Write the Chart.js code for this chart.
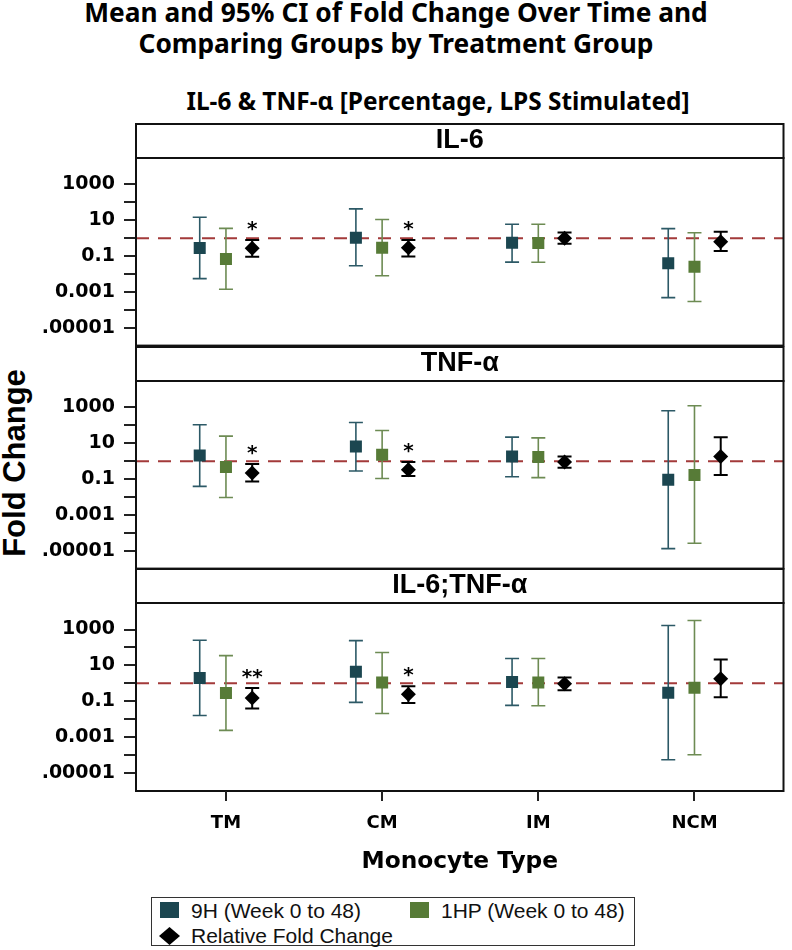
<!DOCTYPE html>
<html><head><meta charset="utf-8">
<script src="https://cdn.jsdelivr.net/npm/chart.js@4/dist/chart.umd.min.js"></script>
<style>
html,body{margin:0;padding:0;background:#fff;}
#root{position:relative;width:792px;height:950px;overflow:hidden;background:#fff;}
.t{position:absolute;white-space:nowrap;color:#000;}
.title{font-family:"Noto Sans","Open Sans",sans-serif;font-weight:700;font-size:26.3px;line-height:30px;width:792px;text-align:center;}
.sub{font-size:24.4px;}
.ytitle{font-family:"Liberation Sans",Arial,sans-serif;font-weight:700;font-size:31px;line-height:31px;left:14px;top:463px;transform:translate(-50%,-50%) rotate(-90deg);}
canvas{position:absolute;left:0;}
#legend{position:absolute;left:151px;top:897px;width:482px;height:47px;border:1.5px solid #333;}
.lt{position:absolute;font-family:"Liberation Sans",Arial,sans-serif;font-size:21px;line-height:21px;color:#111;white-space:nowrap;}
.lm{position:absolute;}
</style></head><body><div id="root">
<div class="t title" style="left:0;top:-3.5px">Mean and 95% CI of Fold Change Over Time and</div>
<div class="t title" style="left:0;top:28.1px">Comparing Groups by Treatment Group</div>
<div class="t title sub" style="left:42px;top:85.5px">IL-6 &amp; TNF-α [Percentage, LPS Stimulated]</div>
<div class="t ytitle">Fold Change</div>
<canvas id="c1" width="792" height="266" style="top:100px"></canvas>
<canvas id="c2" width="792" height="259" style="top:330px"></canvas>
<canvas id="c3" width="792" height="331" style="top:550px"></canvas>
<div id="legend"></div>
</div>
<script>
// ---- data ----
const categories = ['TM', 'CM', 'IM', 'NCM'];
const panelTitles = ['IL-6', 'TNF-α', 'IL-6;TNF-α'];
const seriesNames = ['9H (Week 0 to 48)', '1HP (Week 0 to 48)', 'Relative Fold Change'];
const xTitle = 'Monocyte Type';
const refValue = 1;
const yTickValues = [1000, 100, 10, 1, 0.1, 0.01, 0.001, 0.0001, 0.00001];
const yTickLabels = ['1000', '', '10', '', '0.1', '', '0.001', '', '.00001'];

// IL-6
const il6_9h_mean = [0.28, 1.07, 0.55, 0.04];
const il6_9h_lo = [0.0055, 0.029, 0.046, 0.00048];
const il6_9h_hi = [14.6, 43, 6, 3.4];
const il6_1hp_mean = [0.069, 0.29, 0.53, 0.025];
const il6_1hp_lo = [0.0014, 0.008, 0.045, 0.00029];
const il6_1hp_hi = [3.5, 11, 6, 2.0];
const il6_rfc_mean = [0.27, 0.29, 1.0, 0.64];
const il6_rfc_lo = [0.093, 0.095, 0.48, 0.19];
const il6_rfc_hi = [0.79, 0.79, 2.1, 2.3];
const il6_sig = ['*', '*', '', ''];

// TNF-α
const tnf_9h_mean = [2.1, 6.6, 1.8, 0.091];
const tnf_9h_lo = [0.039, 0.28, 0.135, 0.000013];
const tnf_9h_hi = [108, 145, 22, 660];
const tnf_1hp_mean = [0.47, 2.3, 1.7, 0.17];
const tnf_1hp_lo = [0.0093, 0.107, 0.12, 0.000026];
const tnf_1hp_hi = [25, 52, 20, 1240];
const tnf_rfc_mean = [0.22, 0.33, 0.89, 1.8];
const tnf_rfc_lo = [0.074, 0.15, 0.43, 0.17];
const tnf_rfc_hi = [0.69, 0.9, 1.8, 22];
const tnf_sig = ['*', '*', '', ''];

// IL-6;TNF-α
const both_9h_mean = [2.0, 4.4, 1.2, 0.3];
const both_9h_lo = [0.016, 0.087, 0.059, 0.000055];
const both_9h_hi = [250, 240, 24, 1670];
const both_1hp_mean = [0.29, 1.1, 1.1, 0.57];
const both_1hp_lo = [0.0024, 0.021, 0.056, 0.000105];
const both_1hp_hi = [35, 52, 24, 3200];
const both_rfc_mean = [0.15, 0.25, 0.95, 1.8];
const both_rfc_lo = [0.039, 0.079, 0.41, 0.17];
const both_rfc_hi = [0.55, 0.68, 2.1, 21];
const both_sig = ['**', '*', '', ''];

// ---- styles ----
const seriesStyle = [
  {fill: '#1b4650', err: '#2c5966', errW: 1.6, shape: 'rect', r: 8.5, off: -0.168},
  {fill: '#577b37', err: '#6d8b53', errW: 1.6, shape: 'rect', r: 8.5, off: 0},
  {fill: '#000000', err: '#000000', errW: 2, shape: 'rectRot', r: 7.5, off: 0.168}
];
const xMin = 0.424, xMax = 4.57, yMin = 1e-6, yMax = 3e4;

Chart.defaults.font.family = '"DejaVu Sans", sans-serif';

const deco = {
  id: 'deco',
  beforeDatasetsDraw(chart, args, o) {
    const {ctx, chartArea: a, scales: {y}} = chart;
    ctx.save();
    ctx.beginPath(); ctx.rect(a.left, a.top, a.right - a.left, a.bottom - a.top); ctx.clip();
    const yr = y.getPixelForValue(refValue);
    ctx.setLineDash([13, 9]); ctx.lineWidth = 2; ctx.strokeStyle = '#a33a3a';
    ctx.beginPath(); ctx.moveTo(a.left, yr); ctx.lineTo(a.right, yr); ctx.stroke();
    ctx.setLineDash([]);
    chart.data.datasets.forEach((ds, di) => {
      const meta = chart.getDatasetMeta(di);
      ctx.strokeStyle = ds.errColor; ctx.lineWidth = ds.errWidth;
      meta.data.forEach((pt, i) => {
        const yl = y.getPixelForValue(ds.lo[i]), yh = y.getPixelForValue(ds.hi[i]);
        const x = pt.x, w = 7;
        ctx.beginPath();
        ctx.moveTo(x, yh); ctx.lineTo(x, yl);
        ctx.moveTo(x - w, yh); ctx.lineTo(x + w, yh);
        ctx.moveTo(x - w, yl); ctx.lineTo(x + w, yl);
        ctx.stroke();
      });
    });
    ctx.restore();
  },
  afterDatasetsDraw(chart, args, o) {
    const {ctx, chartArea: a, scales: {x, y}} = chart;
    ctx.save();
    const di = chart.data.datasets.length - 1;
    const ds = chart.data.datasets[di];
    const meta = chart.getDatasetMeta(di);
    ctx.fillStyle = '#000'; ctx.textAlign = 'center'; ctx.textBaseline = 'alphabetic';
    ctx.font = 'bold 20px "DejaVu Sans"';
    meta.data.forEach((pt, i) => {
      if (o.sig[i]) ctx.fillText(o.sig[i], pt.x, y.getPixelForValue(ds.hi[i]) - 17 + 11.8);
    });
    ctx.lineWidth = 2; ctx.strokeStyle = '#111';
    ctx.strokeRect(a.left, a.top, a.right - a.left, a.bottom - a.top);
    ctx.strokeRect(a.left, a.top - 34, a.right - a.left, 34);
    // category tick marks under the bottom panel
    if (x.options.display) {
      ctx.strokeStyle = '#222'; ctx.lineWidth = 2;
      x.ticks.forEach(t => {
        const px = Math.round(x.getPixelForValue(t.value));
        ctx.beginPath(); ctx.moveTo(px, a.bottom); ctx.lineTo(px, a.bottom + 10); ctx.stroke();
      });
    }
    ctx.font = 'bold 27px "Liberation Sans", Arial';
    ctx.textBaseline = 'middle';
    ctx.fillText(o.title, (a.left + a.right) / 2, a.top - 17);
    ctx.restore();
  }
};

function makeChart(id, idx, means, los, his, sig, showX, padTop, padBottom) {
  const datasets = means.map((m, s) => ({
    label: seriesNames[s],
    data: categories.map((c, i) => ({x: i + 1 + seriesStyle[s].off, y: m[i]})),
    lo: los[s], hi: his[s],
    errColor: seriesStyle[s].err, errWidth: seriesStyle[s].errW,
    pointStyle: seriesStyle[s].shape, pointRadius: seriesStyle[s].r,
    backgroundColor: seriesStyle[s].fill, borderColor: seriesStyle[s].fill, borderWidth: 0,
    showLine: false
  }));
  return new Chart(document.getElementById(id), {
    type: 'scatter',
    data: {datasets},
    plugins: [deco],
    options: {
      responsive: false, animation: false, devicePixelRatio: 1,
      layout: {padding: {top: padTop, bottom: padBottom, left: 0, right: 3}},
      plugins: {legend: {display: false}, tooltip: {enabled: false}, deco: {title: panelTitles[idx], sig}},
      events: [],
      scales: {
        x: {
          type: 'linear', min: xMin, max: xMax, display: showX,
          afterBuildTicks: s => { s.ticks = categories.map((c, i) => ({value: i + 1})); },
          afterFit: s => { if (showX) s.height = 90; },
          ticks: {callback: v => categories[Math.round(v) - 1], font: {size: 18, weight: 'bold'}, color: '#000', padding: 13, autoSkip: false, maxRotation: 0},
          grid: {display: true, drawOnChartArea: false, drawTicks: true, tickLength: 9, color: '#222', lineWidth: 2},
          border: {display: false},
          title: {display: true, text: xTitle, font: {size: 23.3, weight: 'bold'}, color: '#000', padding: {top: 0, bottom: 5}}
        },
        y: {
          type: 'logarithmic', min: yMin, max: yMax,
          afterBuildTicks: s => { s.ticks = yTickValues.map(v => ({value: v})); },
          afterFit: s => { s.width = 136; },
          ticks: {callback: v => yTickLabels[yTickValues.indexOf(v)], font: {size: 19, weight: 'bold'}, color: '#000', padding: 9, autoSkip: false},
          grid: {drawOnChartArea: false, drawTicks: true, tickLength: 12, color: '#222', lineWidth: 2},
          border: {display: false}
        }
      }
    }
  });
}

makeChart('c1', 0, [il6_9h_mean, il6_1hp_mean, il6_rfc_mean], [il6_9h_lo, il6_1hp_lo, il6_rfc_lo], [il6_9h_hi, il6_1hp_hi, il6_rfc_hi], il6_sig, false, 58, 20);
makeChart('c2', 1, [tnf_9h_mean, tnf_1hp_mean, tnf_rfc_mean], [tnf_9h_lo, tnf_1hp_lo, tnf_rfc_lo], [tnf_9h_hi, tnf_1hp_hi, tnf_rfc_hi], tnf_sig, false, 51, 20);
makeChart('c3', 2, [both_9h_mean, both_1hp_mean, both_rfc_mean], [both_9h_lo, both_1hp_lo, both_rfc_lo], [both_9h_hi, both_1hp_hi, both_rfc_hi], both_sig, true, 53, 0);

// ---- legend ----
const leg = document.getElementById('legend');
const legPos = [{x: 39, y: 2}, {x: 289, y: 2}, {x: 39, y: 26.7}];
seriesNames.forEach((n, s) => {
  const p = legPos[s];
  const m = document.createElement('div');
  m.className = 'lm';
  if (seriesStyle[s].shape === 'rect') {
    m.style.cssText = `left:${p.x - 31}px;top:${p.y + 2.2}px;width:18.5px;height:15.6px;background:${seriesStyle[s].fill}`;
  } else {
    m.style.cssText = `left:${p.x - 32}px;top:${p.y + 2.3}px;width:21px;height:18px;background:${seriesStyle[s].fill};clip-path:polygon(50% 0,100% 50%,50% 100%,0 50%);`;
  }
  leg.appendChild(m);
  const t = document.createElement('div');
  t.className = 'lt'; t.textContent = n;
  t.style.left = p.x + 'px'; t.style.top = p.y + 'px';
  leg.appendChild(t);
});
</script>
</body></html>
